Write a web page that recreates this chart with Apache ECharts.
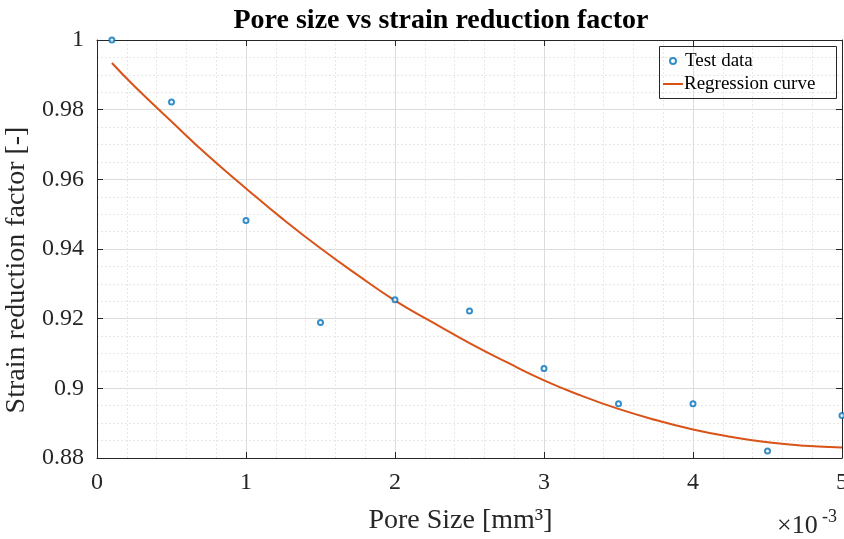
<!DOCTYPE html>
<html>
<head>
<meta charset="utf-8">
<script src="https://cdn.jsdelivr.net/npm/echarts@6/dist/echarts.min.js"></script>
<style>
html,body{margin:0;padding:0;background:#fff;}
#chart{width:844px;height:539px;}
</style>
</head>
<body>
<div id="chart"></div>
<script>
// Pore size in units of 1e-3 mm^3
var testX = [0.1, 0.5, 1.0, 1.5, 2.0, 2.5, 3.0, 3.5, 4.0, 4.5, 5.0];
var testY = [1.000, 0.9822, 0.9482, 0.9189, 0.9254, 0.9222, 0.9057, 0.8956, 0.8956, 0.8820, 0.8922];
var curveX = [0.1, 0.25, 0.5, 0.75, 1.0, 1.25, 1.5, 1.75, 2.0, 2.25, 2.5, 2.75, 3.0, 3.25, 3.5, 3.75, 4.0, 4.25, 4.5, 4.75, 5.0];
var curveY = [0.9934, 0.9868, 0.9766, 0.9666, 0.9574, 0.9485, 0.9402, 0.9325, 0.9252, 0.9190, 0.9130, 0.9075, 0.9023, 0.8979, 0.8941, 0.8909, 0.8882, 0.8861, 0.8845, 0.8835, 0.8830];
var xTicks = [0, 1, 2, 3, 4, 5];
var yTicks = [0.88, 0.9, 0.92, 0.94, 0.96, 0.98, 1];

var FONT = '"Liberation Serif", "Times New Roman", serif';
var TXT = '#262626';

function pairs(xs, ys) { return xs.map(function (x, i) { return [x, ys[i]]; }); }

var chart = echarts.init(document.getElementById('chart'), null, {renderer: 'canvas'});

var axisCommon = {
  axisLine: {show: true, onZero: false, lineStyle: {color: TXT, width: 1}},
  axisTick: {show: true, inside: true, length: 6, lineStyle: {color: TXT, width: 1}},
  minorTick: {show: false}
};

var option = {
  backgroundColor: '#fff',
  animation: false,
  title: {
    text: 'Pore size vs strain reduction factor',
    left: 436, top: 2, textAlign: 'center',
    textStyle: {fontFamily: FONT, fontWeight: 'bold', fontSize: 28, color: '#000'}
  },
  grid: {left: 97, right: 2, top: 40, bottom: 81, containLabel: false, outerBoundsMode: 'none'},
  legend: [
    {
      orient: 'vertical', left: 669, top: 51, padding: 0,
      itemWidth: 6, itemHeight: 6,
      textStyle: {fontFamily: FONT, fontSize: 19, color: '#000', lineHeight: 20, padding: [0, 0, 0, 4]},
      data: [{name: 'Test data', icon: 'emptyCircle', itemStyle: {borderWidth: 1.5}}]
    },
    {
      orient: 'vertical', left: 663, top: 74, padding: 0,
      itemWidth: 20, itemHeight: 2,
      textStyle: {fontFamily: FONT, fontSize: 19, color: '#000', lineHeight: 20, padding: [0, 0, 0, -4]},
      data: [{name: 'Regression curve', icon: 'rect'}]
    }
  ],
  xAxis: [
    Object.assign({}, axisCommon, {
      type: 'value', min: 0, max: 5, interval: 1, position: 'bottom',
      axisLabel: {fontFamily: FONT, fontSize: 24, color: TXT, margin: 13,
        formatter: function (v) { return String(xTicks[Math.round(v)]); }},
      splitLine: {show: true, lineStyle: {color: '#dcdcdc', width: 1}},
      minorTick: {show: false, splitNumber: 5},
      minorSplitLine: {show: true, lineStyle: {color: '#e8e8e8', width: 1, type: [2, 2]}},
      name: 'Pore Size [mm³]', nameLocation: 'middle', nameGap: 49,
      nameTextStyle: {fontFamily: FONT, fontSize: 28, color: TXT, padding: [0, 18, 0, 0]}
    }),
    Object.assign({}, axisCommon, {
      type: 'value', min: 0, max: 5, interval: 1, position: 'top',
      axisLabel: {show: false}, splitLine: {show: false}
    })
  ],
  yAxis: [
    Object.assign({}, axisCommon, {
      type: 'value', min: 0.88, max: 1, interval: 0.02, position: 'left',
      axisLabel: {fontFamily: FONT, fontSize: 24, color: TXT, margin: 13,
        formatter: function (v) { return String(parseFloat(v.toFixed(2))); }},
      splitLine: {show: true, lineStyle: {color: '#dcdcdc', width: 1}},
      minorTick: {show: false, splitNumber: 4},
      minorSplitLine: {show: true, lineStyle: {color: '#e8e8e8', width: 1, type: [2, 2]}},
      name: 'Strain reduction factor [-]', nameLocation: 'middle', nameGap: 62,
      nameTextStyle: {fontFamily: FONT, fontSize: 28, color: TXT, padding: [0, 42, 0, 0]}
    }),
    Object.assign({}, axisCommon, {
      type: 'value', min: 0.88, max: 1, interval: 0.02, position: 'right',
      axisLabel: {show: false}, splitLine: {show: false}
    })
  ],
  series: [
    {
      name: 'Regression curve', type: 'line', smooth: true, showSymbol: false,
      symbol: 'none', data: pairs(curveX, curveY),
      lineStyle: {color: '#D95319', width: 2}, itemStyle: {color: '#D95319'}, z: 2
    },
    {
      name: 'Test data', type: 'scatter', symbol: 'emptyCircle', symbolSize: 5,
      data: pairs(testX, testY),
      itemStyle: {color: '#0072BD', borderColor: '#0072BD', borderWidth: 1.6}, z: 3
    }
  ],
  graphic: [
    {
      type: 'rect', z: 5,
      shape: {x: 659.5, y: 46.5, width: 177, height: 52},
      style: {fill: 'rgba(255,255,255,0)', stroke: TXT, lineWidth: 1}
    },
    {
      type: 'text', x: 777, y: 513, z: 5,
      style: {text: '×10', font: '26px ' + FONT, fill: TXT}
    },
    {
      type: 'text', x: 822, y: 508, z: 5,
      style: {text: '-3', font: '18px ' + FONT, fill: TXT}
    }
  ]
};
chart.setOption(option);
</script>
</body>
</html>
